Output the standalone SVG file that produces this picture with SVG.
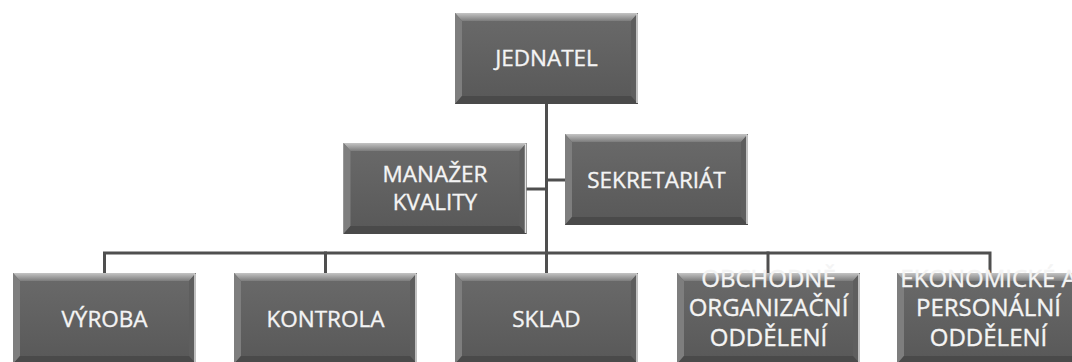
<svg xmlns="http://www.w3.org/2000/svg" xmlns:xlink="http://www.w3.org/1999/xlink" width="1072" height="362" viewBox="0 0 1072 362">
  <style>
    .lbl { font-family: "Open Sans", "Liberation Sans", sans-serif; font-size: 22.5px; fill: #f4f4f4; stroke: #f4f4f4; stroke-width: 0.35; text-anchor: middle; }
    .lbl.big { font-size: 24px; }
    .wire { fill: none; stroke: #4f4f4f; stroke-width: 3; stroke-linecap: square; }
  </style>
  <defs>
    <linearGradient id="body" x1="0" y1="0" x2="0" y2="1">
      <stop offset="0" stop-color="#6a6a6a"/>
      <stop offset="1" stop-color="#585858"/>
    </linearGradient>
    <linearGradient id="topBevel" x1="0" y1="0" x2="0" y2="1">
      <stop offset="0" stop-color="#c4c4c4"/>
      <stop offset="1" stop-color="#7c7c7c"/>
    </linearGradient>
    <!-- bevelled grey tile, 183 x 91 -->
    <symbol id="box" viewBox="0 0 183 91" overflow="visible">
      <rect x="0" y="0" width="183" height="91" fill="url(#body)"/>
      <polygon points="0,0 183,0 176,8 7,8" fill="url(#topBevel)"/>
      <polygon points="0,0 7,8 7,83 0,91" fill="#7e7e7e"/>
      <polygon points="183,0 183,91 176,83 176,8" fill="#5e5e5e"/>
      <polygon points="0,91 183,91 176,83 7,83" fill="#4a4a4a"/>
      <line x1="182" y1="1" x2="182" y2="90" stroke="#e2e2e2" stroke-width="1.5"/>
    </symbol>
  </defs>

  <rect width="1072" height="362" fill="#ffffff"/>

  <g id="connectors">
    <path class="wire" d="M546.5 104 V273"/>
    <path class="wire" d="M527 189 H546.5"/>
    <path class="wire" d="M546.5 180 H565"/>
    <path class="wire" d="M104.5 273 V253 H990 V273"/>
    <path class="wire" d="M325.5 253 V273"/>
    <path class="wire" d="M768 253 V273"/>
  </g>

  <g id="jednatel">
    <use href="#box" x="455" y="13" width="183" height="91"/>
    <text class="lbl" x="546.5" y="66">JEDNATEL</text>
  </g>

  <g id="manazer-kvality">
    <use href="#box" x="343" y="143" width="184" height="91"/>
    <text class="lbl" x="435" y="182">MANAŽER</text>
    <text class="lbl" x="435" y="210">KVALITY</text>
  </g>

  <g id="sekretariat">
    <use href="#box" x="565" y="134" width="183" height="91"/>
    <text class="lbl" x="656.5" y="188">SEKRETARIÁT</text>
  </g>

  <g id="vyroba">
    <use href="#box" x="13" y="273" width="183" height="91"/>
    <text class="lbl" x="104.5" y="327">VÝROBA</text>
  </g>

  <g id="kontrola">
    <use href="#box" x="234" y="273" width="183" height="91"/>
    <text class="lbl" x="325.5" y="327">KONTROLA</text>
  </g>

  <g id="sklad">
    <use href="#box" x="455" y="273" width="183" height="91"/>
    <text class="lbl" x="546.5" y="327">SKLAD</text>
  </g>

  <g id="obchodne-organizacni">
    <use href="#box" x="677" y="273" width="183" height="91"/>
    <text class="lbl big" x="768.5" y="287">OBCHODNĚ</text>
    <text class="lbl big" x="768.5" y="316">ORGANIZAČNÍ</text>
    <text class="lbl big" x="768.5" y="346">ODDĚLENÍ</text>
  </g>

  <g id="ekonomicke-personalni">
    <use href="#box" x="897" y="273" width="183" height="91"/>
    <text class="lbl big" x="988.5" y="287">EKONOMICKÉ A</text>
    <text class="lbl big" x="988.5" y="316">PERSONÁLNÍ</text>
    <text class="lbl big" x="988.5" y="346">ODDĚLENÍ</text>
  </g>
</svg>
